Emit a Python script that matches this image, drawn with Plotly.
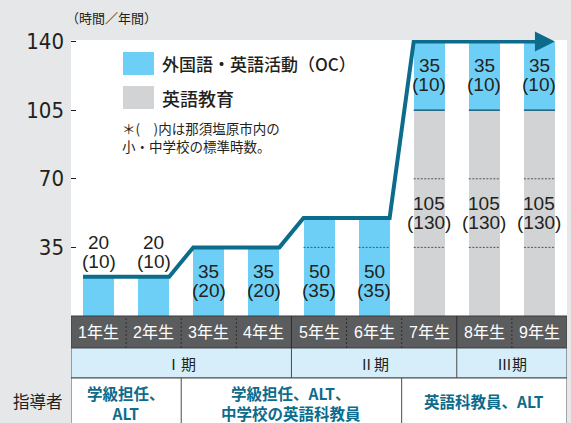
import plotly.graph_objects as go

grades = ["1年生", "2年生", "3年生", "4年生", "5年生", "6年生", "7年生", "8年生", "9年生"]
oc_hours = [20, 20, 35, 35, 50, 50, 35, 35, 35]
oc_local = [10, 10, 20, 20, 35, 35, 10, 10, 10]
eng_hours = [0, 0, 0, 0, 0, 0, 105, 105, 105]
eng_local = [None, None, None, None, None, None, 130, 130, 130]
dot_levels = [[], [], [], [], [35], [35], [35, 70], [35, 70], [35, 70]]

periods = ["Ⅰ期", "Ⅱ期", "Ⅲ期"]
period_span = [(0, 4), (4, 7), (7, 9)]
teachers = ["学級担任、<br>ALT", "学級担任、ALT、<br>中学校の英語科教員", "英語科教員、ALT"]
teacher_span = [(0, 2), (2, 6), (6, 9)]
y_ticks = [35, 70, 105, 140]

BLUE = "#6dcff6"
GRAY = "#d1d3d4"
TEAL = "#0d6b8c"
INK = "#231f20"
BG = "#e6e7e8"
HEAD = "#5b5c5e"
PALE = "#d5eefa"
NUM = "Liberation Sans, Noto Sans CJK JP"
JP = "Noto Sans CJK JP"

W = 0.5625
x = [i + 0.5 for i in range(len(grades))]
total = [a + b for a, b in zip(oc_hours, eng_hours)]


def px(p):
    return (p - 71) / 496


def py(p):
    return (316 - p) / 276


def note(**kw):
    kw.setdefault("xanchor", "center")
    kw.setdefault("yanchor", "middle")
    fig.add_annotation(showarrow=False, **kw)


fig = go.Figure()
fig.add_trace(go.Bar(x=x, y=eng_hours, width=W, marker=dict(color=GRAY, line_width=0)))
fig.add_trace(go.Bar(x=x, y=oc_hours, width=W, marker=dict(color=BLUE, line_width=0)))

# dotted divisions and the 105 separator inside the bars
dx, dy = [], []
sx, sy = [], []
for xi, levels, e in zip(x, dot_levels, eng_hours):
    for lv in levels:
        dx += [xi - W / 2, xi + W / 2, None]
        dy += [lv, lv, None]
    if e:
        sx += [xi - W / 2, xi + W / 2, None]
        sy += [e, e, None]
fig.add_trace(go.Scatter(x=dx, y=dy, mode="lines", line=dict(color="#555", width=1, dash="2px,1.5px")))
fig.add_trace(go.Scatter(x=sx, y=sy, mode="lines", line=dict(color="#1f5f7a", width=1.5)))

# stepped total line
lx, ly = [], []
for xi, t in zip(x, total):
    lx += [xi - W / 2, xi + W / 2]
    ly += [t, t]
lx[-1] = x[-1]
fig.add_trace(go.Scatter(x=lx, y=ly, mode="lines", line=dict(color=TEAL, width=4)))
fig.add_annotation(x=x[-1] + W / 2, y=total[-1], ax=x[-1], ay=total[-1],
                   xref="x", yref="y", axref="x", ayref="y", text="",
                   showarrow=True, arrowhead=2, arrowsize=1, arrowwidth=4, arrowcolor=TEAL)


def label(xi, mid, val, local):
    note(x=xi, y=mid, text=str(val), yshift=10, font=dict(family=NUM, size=19, color=INK))
    note(x=xi, y=mid, text="(%d)" % local, yshift=-9, font=dict(family=NUM, size=19, color=INK))


for i, xi in enumerate(x):
    base, top = eng_hours[i], total[i]
    cuts = [d for d in dot_levels[i] if base < d < top]
    hi = cuts[0] if cuts else top
    mid = top + 12.5 if hi - base < 30 else (base + hi) / 2
    label(xi, mid, oc_hours[i], oc_local[i])
    if eng_hours[i]:
        inner = [d for d in dot_levels[i] if d < eng_hours[i]]
        label(xi, sum(inner) / len(inner), eng_hours[i], eng_local[i])

# legend
fig.add_shape(type="rect", xref="paper", yref="paper", x0=px(123), x1=px(154), y0=py(75), y1=py(52),
              fillcolor=BLUE, line_width=0)
fig.add_shape(type="rect", xref="paper", yref="paper", x0=px(123), x1=px(154), y0=py(109), y1=py(86),
              fillcolor=GRAY, line_width=0)
note(xref="paper", yref="paper", x=px(160), y=py(63.5), xanchor="left",
     text="外国語・英語活動（OC）", font=dict(family=JP, size=17, color=INK, weight=500))
note(xref="paper", yref="paper", x=px(160), y=py(97.5), xanchor="left",
     text="英語教育", font=dict(family=JP, size=18, color=INK, weight=500))
note(xref="paper", yref="paper", x=px(120), y=py(137), xanchor="left", align="left",
     text="＊(　)内は那須塩原市内の<br>小・中学校の標準時数。", font=dict(family=JP, size=13.5, color=INK))
note(xref="paper", yref="paper", x=px(111), y=py(17),
     text="（時間／年間）", font=dict(family=JP, size=13, color=INK))

# table under the chart
fig.add_shape(type="rect", xref="x", yref="paper", x0=0, x1=9, y0=py(348), y1=0,
              fillcolor=HEAD, line=dict(color="#3a3a3c", width=1))
fig.add_shape(type="rect", xref="x", yref="paper", x0=0, x1=9, y0=py(378), y1=py(348),
              fillcolor=PALE, line=dict(color="#4a4b4d", width=1))
fig.add_shape(type="rect", xref="x", yref="paper", x0=0, x1=9, y0=py(424), y1=py(378),
              fillcolor="white", line=dict(color="#4a4b4d", width=1))

bounds = [s[0] for s in period_span[1:]]
for k in range(1, len(grades)):
    fig.add_shape(type="line", xref="x", yref="paper", x0=k, x1=k, y0=py(348), y1=0,
                  line=dict(color="#2e2e30", width=1, dash=None if k in bounds else "2px,2px"))
for k in bounds:
    fig.add_shape(type="line", xref="x", yref="paper", x0=k, x1=k, y0=py(378), y1=py(348),
                  line=dict(color="#4a4b4d", width=1))
for s in teacher_span[1:]:
    fig.add_shape(type="line", xref="x", yref="paper", x0=s[0], x1=s[0], y0=py(424), y1=py(378),
                  line=dict(color="#4a4b4d", width=1))

for xi, g in zip(x, grades):
    note(xref="x", yref="paper", x=xi, y=py(332.5), text=g,
         font=dict(family=NUM, size=16, color="white"))
for p, (a, b) in zip(periods, period_span):
    note(xref="x", yref="paper", x=(a + b) / 2, y=py(363.5), text=p,
         font=dict(family=JP, size=15, color=INK))
for t, (a, b) in zip(teachers, teacher_span):
    note(xref="x", yref="paper", x=(a + b) / 2, y=py(403) if "<br>" in t else py(401), text=t,
         font=dict(family=JP, size=15.5, color=TEAL, weight="bold"))
note(xref="paper", yref="paper", x=px(38), y=py(401), text="指導者",
     font=dict(family=JP, size=16.5, color=INK))

fig.update_layout(
    width=571, height=423,
    margin=dict(l=71, r=4, t=40, b=107),
    paper_bgcolor=BG, plot_bgcolor="white",
    barmode="stack", showlegend=False, hovermode=False,
    xaxis=dict(range=[0, 9], visible=False, fixedrange=True),
    yaxis=dict(range=[0, 140.8], tickvals=y_ticks, ticks="inside", ticklen=5, tickwidth=1,
               tickcolor=INK, showgrid=False, zeroline=False, showline=False, ticklabelstandoff=6,
               fixedrange=True,
               tickfont=dict(family="DejaVu Sans Condensed, Liberation Sans Narrow, Liberation Sans",
                             size=22, color=INK)),
)

fig.write_html("out.html", config={"displayModeBar": False},
               post_script="document.body.style.margin='0';")
